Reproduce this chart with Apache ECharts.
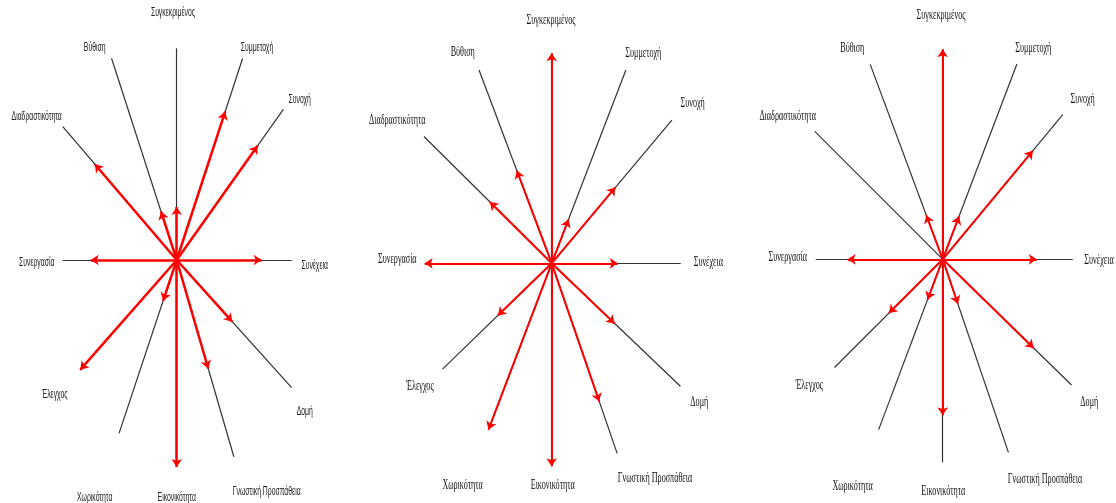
<!DOCTYPE html>
<html>
<head>
<meta charset="utf-8">
<script src="https://cdn.jsdelivr.net/npm/echarts@6/dist/echarts.min.js"></script>
<style>
html,body{margin:0;padding:0;background:#fff;}
#chart{width:1116px;height:503px;}
</style>
</head>
<body>
<div id="chart"></div>
<script>
// ---- data ----
const categories = ['Συγκεκριμένος','Συμμετοχή','Συνοχή','Συνέχεια','Δομή','Γνωστική Προσπάθεια','Εικονικότητα','Χωρικότητα','Έλεγχος','Συνεργασία','Διαδραστικότητα','Βύθιση'];

// direction of each dimension axis (degrees, counter-clockwise from east)
const axisAngle1 = [90, 71.9, 54.7, 0, -48, -73.8, -90, -108.4, -131.3, 180, 130.5, 107.9];
const axisAngle2 = [90, 69, 50, 0, -43.7, -71, -90, -110.8, -135.9, 180, 135.2, 110.6];
const axisAngle3 = [90, 69.2, 50.3, 0, -44.3, -71.2, -90, -110.6, -135, 180, 135, 110.4];

// full length of each dimension axis
const axisLength1 = [211.7, 212, 184.6, 115, 171.8, 204.9, 206.7, 182.7, 146.5, 114, 175.4, 212];
const axisLength2 = [210, 207, 187, 129, 178, 201, 203, 178, 152, 127, 180, 206.5];
const axisLength3 = [210, 209, 188, 130, 180, 204, 203, 182, 153, 127, 181, 208];

// value (arrow length) on each dimension
const arrowValue1 = [53, 156, 140, 85, 83, 113, 207, 43, 146, 86, 126, 51];
const arrowValue2 = [210, 47, 99, 66, 87, 146, 203, 178, 75, 127, 87, 99];
const arrowValue3 = [210, 46, 141, 94, 127, 47, 156, 43, 76, 95, 0, 47];

// ---- layout ----
const W = 1116, H = 503;
const centers = [[176.7, 260], [551.7, 263.3], [942.7, 259.3]];
const labelOffset = [
  [[-3.7,247],[80.3,212],[123,160],[138,-6],[128,-152],[90,-232],[0,-238],[-82,-238],[-122,-135],[-140,-3],[-140,143],[-82,212]],
  [[-0.7,242.6],[91.6,210],[141,160],[156.6,1],[147.6,-139.4],[103.3,-215],[1,-221.7],[-89,-221.7],[-131.7,-122.7],[-154.4,4.3],[-154.4,143.3],[-89,210.6]],
  [[-1.7,244.3],[90.6,211],[140,160],[156.3,-1.4],[146.6,-143],[102.3,-219.7],[0.6,-232.4],[-90,-226.7],[-133.4,-125.7],[-155,1.6],[-155,143.3],[-90.4,211]]
];
const labelStyle = [
  {font:'12px "Liberation Sans"', fill:'#222', scaleX:0.57},
  {font:'14px "Liberation Serif"', fill:'#111', scaleX:0.58},
  {font:'14px "Liberation Serif"', fill:'#111', scaleX:0.58}
];
const arrowWidth = [2.5, 2, 2];

const charts = [
  {ang: axisAngle1, len: axisLength1, val: arrowValue1},
  {ang: axisAngle2, len: axisLength2, val: arrowValue2},
  {ang: axisAngle3, len: axisLength3, val: arrowValue3}
];

function polar(len, deg) {
  const r = deg * Math.PI / 180;
  return [len * Math.cos(r), len * Math.sin(r)];
}

const grid = [], xAxis = [], yAxis = [], series = [];
charts.forEach((c, k) => {
  const [cx, cy] = centers[k];
  grid.push({left: 0, top: 0, width: W, height: H});
  xAxis.push({type: 'value', gridIndex: k, min: -cx, max: W - cx, show: false});
  yAxis.push({type: 'value', gridIndex: k, min: -(H - cy), max: cy, show: false});

  series.push({
    type: 'lines', coordinateSystem: 'cartesian2d', xAxisIndex: k, yAxisIndex: k,
    silent: true, z: 1, symbol: 'none',
    lineStyle: {color: '#333', width: 1.2, opacity: 1},
    data: categories.map((n, i) => ({coords: [[0, 0], polar(c.len[i], c.ang[i])]}))
  });

  series.push({
    type: 'lines', coordinateSystem: 'cartesian2d', xAxisIndex: k, yAxisIndex: k,
    silent: true, z: 2, symbol: ['none', 'arrow'], symbolSize: [1, 8],
    lineStyle: {color: '#ff0000', width: arrowWidth[k], opacity: 1},
    itemStyle: {color: '#ff0000'},
    data: categories.map((n, i) => ({v: c.val[i], i: i}))
      .filter(d => d.v > 0)
      .map(d => ({coords: [[0, 0], polar(d.v, c.ang[d.i])]}))
  });

  const st = labelStyle[k];
  series.push({
    type: 'custom', coordinateSystem: 'cartesian2d', xAxisIndex: k, yAxisIndex: k,
    silent: true, z: 3, clip: false,
    data: categories.map((n, i) => [labelOffset[k][i][0], labelOffset[k][i][1], i]),
    renderItem: function (params, api) {
      const p = api.coord([api.value(0), api.value(1)]);
      return {
        type: 'text', x: p[0], y: p[1], scaleX: st.scaleX,
        style: {text: categories[api.value(2)], font: st.font, fill: st.fill, align: 'center', verticalAlign: 'middle'}
      };
    }
  });
});

const chart = echarts.init(document.getElementById('chart'), null, {renderer: 'canvas'});
chart.setOption({animation: false, backgroundColor: '#fff', grid, xAxis, yAxis, series});
</script>
</body>
</html>
